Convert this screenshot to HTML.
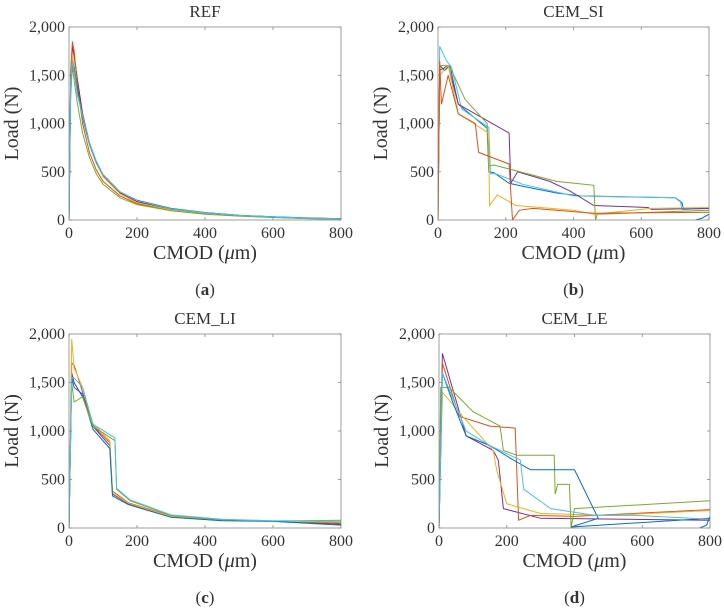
<!DOCTYPE html>
<html><head><meta charset="utf-8"><style>
body{margin:0;background:#fff}
svg text{font-family:"Liberation Serif",serif;fill:#333}
</style></head><body>
<svg id="fig" width="724" height="607" viewBox="0 0 724 607" xmlns="http://www.w3.org/2000/svg"></svg>
<script>
// Panel data (x in µm, y in N)
const xTicks=[0,200,400,600,800];
const yTicks=[0,500,1000,1500,2000];
const yTickLabels=["0","500","1,000","1,500","2,000"];
const colors=["#0072BD","#D95319","#EDB120","#7E2F8E","#77AC30","#4DBEEE","#A2142F"];
const titles=["REF","CEM_SI","CEM_LI","CEM_LE"];
const letters=["a","b","c","d"];

const refX=[0,5,10,15,25,40,60,80,100,150,200,300,400,500,600,700,800];
const refY1=[0,1500,1800,1700,1450,1100,800,600,460,280,190,110,70,45,30,18,10];
const refY2=[0,1550,1850,1750,1400,1000,700,520,400,250,170,100,65,42,28,16,8];
const refY3=[0,1450,1700,1600,1350,1050,780,590,450,270,180,105,68,44,30,18,10];
const refY4=[0,1400,1650,1550,1300,1080,800,610,470,290,200,115,75,48,32,20,12];
const refY5=[0,1300,1600,1450,1200,900,650,480,370,230,160,95,60,40,26,15,8];
const refY6=[0,1400,1620,1580,1350,1060,790,600,470,290,205,120,78,50,33,22,15];

const siX1=[0,5,20,35,60,145,150,165,210,250,350,420,700,720,725,800];
const siY1=[0,1600,1550,1600,1200,950,500,490,380,350,280,250,230,180,110,120];
const siX2=[0,5,25,40,70,150,155,170,250,400,700,715,720,800];
const siY2=[0,1800,1650,1580,1150,960,480,480,370,250,230,200,110,120];
const siX3=[0,5,30,60,210,215,235,330,390,460,620,630,800];
const siY3=[0,1550,1600,1200,900,380,500,400,300,150,130,110,120];
const siX4=[0,5,30,40,80,145,150,165,350,460,465,470,800];
const siY4=[0,1600,1600,1550,1250,1000,560,570,400,360,0,60,100];
const siX5=[0,5,30,60,150,152,175,230,400,460,630,800];
const siY5=[0,1500,1600,1100,900,150,260,150,100,60,120,130];
const siX6=[0,5,10,30,60,110,120,210,220,240,280,460,800];
const siY6=[0,1650,1200,1500,1100,1000,700,580,0,100,120,70,80];
const siX7=[760,780,800];
const siY7=[0,20,60];

const liX=[0,8,15,40,70,120,128,175,300,450,600,800];
const liY1=[0,1600,1500,1350,1050,850,350,250,120,80,70,40];
const liY2=[0,1700,1680,1400,1060,880,380,260,125,85,72,50];
const liY3=[0,1950,1650,1450,1080,900,360,255,120,82,70,60];
const liY4=[0,1550,1450,1380,1020,820,330,240,110,75,68,30];
const liX5=[0,8,15,40,70,135,140,180,300,450,600,800];
const liY5=[0,1500,1300,1350,1050,900,400,280,130,85,72,80];
const liY6=[0,1550,1550,1450,1070,930,410,290,135,90,75,70];

const leX1=[0,10,60,80,160,175,190,300,800];
const leY1=[0,1800,1200,950,800,700,200,100,80];
const leX2=[0,10,60,150,225,235,270,400,800];
const leY2=[0,1700,1150,1050,1030,80,130,120,190];
const leX3=[0,10,70,160,170,200,300,500,800];
const leY3=[0,1400,1150,800,600,250,150,130,180];
const leX4=[0,5,30,100,180,190,230,340,343,350,385,390,400,800];
const leY4=[0,1450,1450,1200,1050,800,750,750,350,450,450,0,200,280];
const leX5=[0,10,40,80,150,220,270,400,470,390,800];
const leY5=[0,1600,1300,950,850,700,600,600,100,10,100];
const leX6=[0,10,80,150,240,250,330,460,580,800];
const leY6=[0,1600,1000,850,700,400,200,130,130,90];
const leX7=[770,790,800];
const leY7=[0,30,120];

const panels=[
 {series:[[refX,refY1,6],[refX,refY2,1],[refX,refY3,2],[refX,refY4,3],[refX,refY5,4],[refX,refY6,0],[refX,refY4,5]]},
 {series:[[siX1,siY1,0],[siX2,siY2,5],[siX3,siY3,3],[siX4,siY4,4],[siX5,siY5,2],[siX6,siY6,1],[siX7,siY7,0]]},
 {series:[[liX,liY1,3],[liX,liY2,1],[liX,liY3,2],[liX,liY4,0],[liX5,liY5,4],[liX5,liY6,5]]},
 {series:[[leX1,leY1,3],[leX2,leY2,1],[leX3,leY3,2],[leX4,leY4,4],[leX5,leY5,0],[leX6,leY6,5],[leX7,leY7,0]]}
];
const boxes=[[69,341,27,220],[438,709,27,220],[69,341,334,528],[439,710,334,528]];

const NS="http://www.w3.org/2000/svg";
const svg=document.getElementById('fig');
function mk(tag,attrs,parent,txt){const e=document.createElementNS(NS,tag);for(const k in attrs)e.setAttribute(k,attrs[k]);if(txt!==undefined)e.textContent=txt;(parent||svg).appendChild(e);return e;}

panels.forEach((p,i)=>{
 const [L,R,T,B]=boxes[i];
 const xs=v=>L+(v/800)*(R-L);
 const ys=v=>B-(v/2000)*(B-T);
 const g=mk('g',{});
 
 
 mk('clipPath',{id:'clip'+i},g);
 mk('rect',{x:L,y:T,width:R-L,height:B-T},g.lastChild);
 const lines=mk('g',{'clip-path':'url(#clip'+i+')'},g);
 p.series.forEach((s,j)=>{
  const d=s[0].map((x,k)=>(k?'L':'M')+xs(x).toFixed(1)+','+ys(s[1][k]).toFixed(1)).join('');
  const path=mk('path',{d:d,fill:'none',stroke:colors[s[2]],'stroke-width':1},lines);
  
  
 });
 const box=mk('rect',{x:L,y:T,width:R-L,height:B-T,fill:'none',stroke:'#888','stroke-width':0.8},g);
 
 
 xTicks.forEach(v=>{
  const x=xs(v);
  mk('line',{x1:x,x2:x,y1:B,y2:B-3,stroke:'#888','stroke-width':0.8},g);
  mk('line',{x1:x,x2:x,y1:T,y2:T+3,stroke:'#888','stroke-width':0.8},g);
  const t=mk('text',{x:x,y:B+18,'text-anchor':'middle','font-size':16},g,String(v));
  
  
 });
 yTicks.forEach((v,k)=>{
  const y=ys(v);
  mk('line',{x1:L,x2:L+3,y1:y,y2:y,stroke:'#888','stroke-width':0.8},g);
  mk('line',{x1:R,x2:R-3,y1:y,y2:y,stroke:'#888','stroke-width':0.8},g);
  const t=mk('text',{x:L-4,y:y+5,'text-anchor':'end','font-size':16},g,yTickLabels[k]);
  
  
 });
 const cx=(L+R)/2;
 const tt=mk('text',{x:cx,y:T-10,'text-anchor':'middle','font-size':17},g,titles[i]);
 
 
 const xl=mk('text',{x:cx,y:B+39,'text-anchor':'middle','font-size':20},g);
 
 
 xl.innerHTML='CMOD (<tspan font-style="italic">μ</tspan>m)';
 const yl=mk('text',{x:0,y:0,'text-anchor':'middle','font-size':20,transform:`translate(${L-51},${(T+B)/2}) rotate(-90)`},g,'Load (N)');
 
 
 const lb=mk('text',{x:cx,y:B+75,'text-anchor':'middle','font-size':17},g);
 
 
 lb.innerHTML='(<tspan font-weight="bold">'+letters[i]+'</tspan>)';
});
</script>
</body></html>
